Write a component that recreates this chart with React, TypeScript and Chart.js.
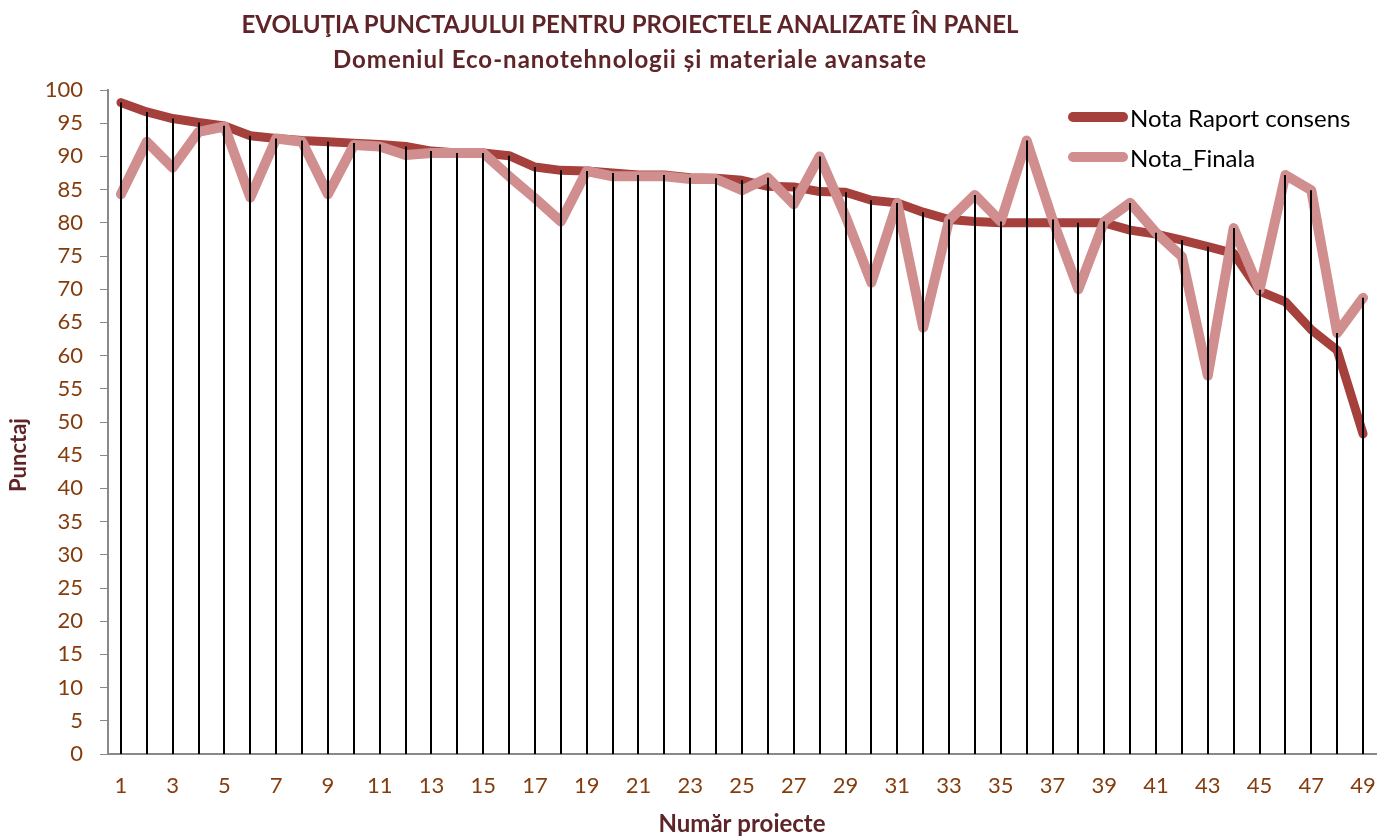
import React, { useEffect, useRef } from "react";
import { Chart, registerables } from "chart.js";

Chart.register(...registerables);

const categories: string[] = Array.from({ length: 49 }, (_, i) => String(i + 1));

const notaRaportConsens: number[] = [
  98.1, 96.7, 95.7, 95.1, 94.6, 93.1, 92.7, 92.4, 92.2, 92.0,
  91.8, 91.5, 90.8, 90.5, 90.5, 90.1, 88.4, 87.9, 87.8, 87.5,
  87.2, 87.2, 86.8, 86.7, 86.4, 85.5, 85.4, 84.7, 84.6, 83.4,
  83.0, 81.6, 80.5, 80.2, 80.0, 80.0, 80.0, 80.0, 80.0, 78.9,
  78.3, 77.4, 76.4, 75.4, 69.7, 68.1, 63.9, 60.8, 48.2,
];

const notaFinala: number[] = [
  84.3, 92.2, 88.3, 93.7, 94.5, 83.8, 92.7, 92.2, 84.3, 91.7,
  91.5, 90.2, 90.5, 90.5, 90.5, 87.0, 83.7, 80.2, 87.8, 87.0,
  87.0, 87.0, 86.6, 86.6, 84.9, 86.8, 82.8, 90.0, 81.0, 71.0,
  83.0, 64.2, 80.4, 84.2, 80.2, 92.4, 80.5, 70.0, 80.2, 83.0,
  78.5, 74.9, 57.0, 79.2, 69.9, 87.2, 84.9, 63.4, 68.7,
];

const yTickValues = { min: 0, max: 100, step: 5 };

const TITLE = "EVOLUŢIA PUNCTAJULUI PENTRU PROIECTELE ANALIZATE ÎN PANEL";
const SUBTITLE = "Domeniul Eco-nanotehnologii și materiale avansate";
const LEGEND = ["Nota Raport consens", "Nota_Finala"];

const C_CONSENS = "rgb(166,64,60)";
const C_FINALA = "rgb(208,142,142)";
const TICK_COLOR = "#843C0C";
const TITLE_COLOR = "#5E2427";
const FONT = "Lato, 'Open Sans', sans-serif";

const dropLines = {
  id: "dropLines",
  afterDatasetsDraw(chart: any) {
    const { ctx, scales } = chart;
    const xs = scales.x;
    const ys = scales.y;
    ctx.save();
    ctx.strokeStyle = "#000";
    ctx.lineWidth = 2;
    for (let i = 0; i < categories.length; i++) {
      const top = Math.max(notaRaportConsens[i], notaFinala[i]);
      const x = Math.round(xs.getPixelForValue(i));
      ctx.beginPath();
      ctx.moveTo(x, ys.getPixelForValue(top));
      ctx.lineTo(x, ys.getPixelForValue(0));
      ctx.stroke();
    }
    ctx.restore();
  },
};

export default function App() {
  const ref = useRef<HTMLCanvasElement>(null);

  useEffect(() => {
    document.body.style.margin = "0";
    const chart = new Chart(ref.current!, {
      type: "line",
      data: {
        labels: categories,
        datasets: [
          {
            label: LEGEND[0],
            data: notaRaportConsens,
            borderColor: C_CONSENS,
            borderWidth: 9,
            pointRadius: 0,
            tension: 0,
            borderCapStyle: "round",
            borderJoinStyle: "round",
            order: 2,
          },
          {
            label: LEGEND[1],
            data: notaFinala,
            borderColor: C_FINALA,
            borderWidth: 10,
            pointRadius: 0,
            tension: 0,
            borderCapStyle: "round",
            borderJoinStyle: "round",
            order: 1,
          },
        ],
      },
      options: {
        animation: false,
        responsive: false,
        layout: { padding: { left: 0, right: 18, top: 90, bottom: 0 } },
        plugins: {
          legend: { display: false },
          tooltip: { enabled: false },
          title: { display: false },
        },
        scales: {
          x: {
            offset: true,
            grid: { display: false },
            border: { display: true, color: "#898989", width: 2 },
            ticks: {
              autoSkip: false,
              maxRotation: 0,
              padding: 11,
              color: TICK_COLOR,
              font: { family: FONT, size: 22 },
              callback: (_v: any, i: number) => (i % 2 === 0 ? categories[i] : ""),
            },
            title: {
              display: true,
              text: "Număr proiecte",
              color: TITLE_COLOR,
              font: { family: FONT, size: 24, weight: "bold" },
              padding: { top: 0, bottom: 0 },
            },
            afterFit: (s: any) => {
              s.height = 85;
            },
          },
          y: {
            min: yTickValues.min,
            max: yTickValues.max,
            grid: { drawOnChartArea: false, drawTicks: true, tickLength: 8, color: "#898989" },
            border: { display: true, color: "#898989", width: 2 },
            ticks: {
              stepSize: yTickValues.step,
              padding: 17,
              color: TICK_COLOR,
              font: { family: FONT, size: 22 },
            },
            afterFit: (s: any) => {
              s.width = 108;
            },
          },
        },
      },
      plugins: [dropLines],
    });
    return () => chart.destroy();
  }, []);

  return (
    <div style={{ position: "relative", width: 1394, height: 839, background: "#fff", fontFamily: FONT }}>
      <canvas ref={ref} width={1394} height={839} style={{ position: "absolute", left: 0, top: 0 }} />
      <div
        style={{
          position: "absolute",
          left: 0,
          width: 1260,
          top: 6,
          textAlign: "center",
          color: TITLE_COLOR,
          fontWeight: "bold",
          fontSize: 24,
          lineHeight: "35px",
        }}
      >
        <div>{TITLE}</div>
        <div style={{ letterSpacing: 1 }}>{SUBTITLE}</div>
      </div>
      <div
        style={{
          position: "absolute",
          left: 18 - 60,
          top: 455 - 13,
          width: 120,
          height: 26,
          lineHeight: "26px",
          textAlign: "center",
          transform: "rotate(-90deg)",
          color: TITLE_COLOR,
          fontWeight: "bold",
          fontSize: 22,
        }}
      >
        Punctaj
      </div>
      {LEGEND.map((t, i) => (
        <div key={t} style={{ position: "absolute", left: 1068, top: 117 - 16 + i * 40, height: 32, display: "flex", alignItems: "center" }}>
          <div style={{ width: 60, height: 10, borderRadius: 5, background: i === 0 ? C_CONSENS : C_FINALA }} />
          <span style={{ marginLeft: 2, fontSize: 24, color: "#000" }}>{t}</span>
        </div>
      ))}
    </div>
  );
}
